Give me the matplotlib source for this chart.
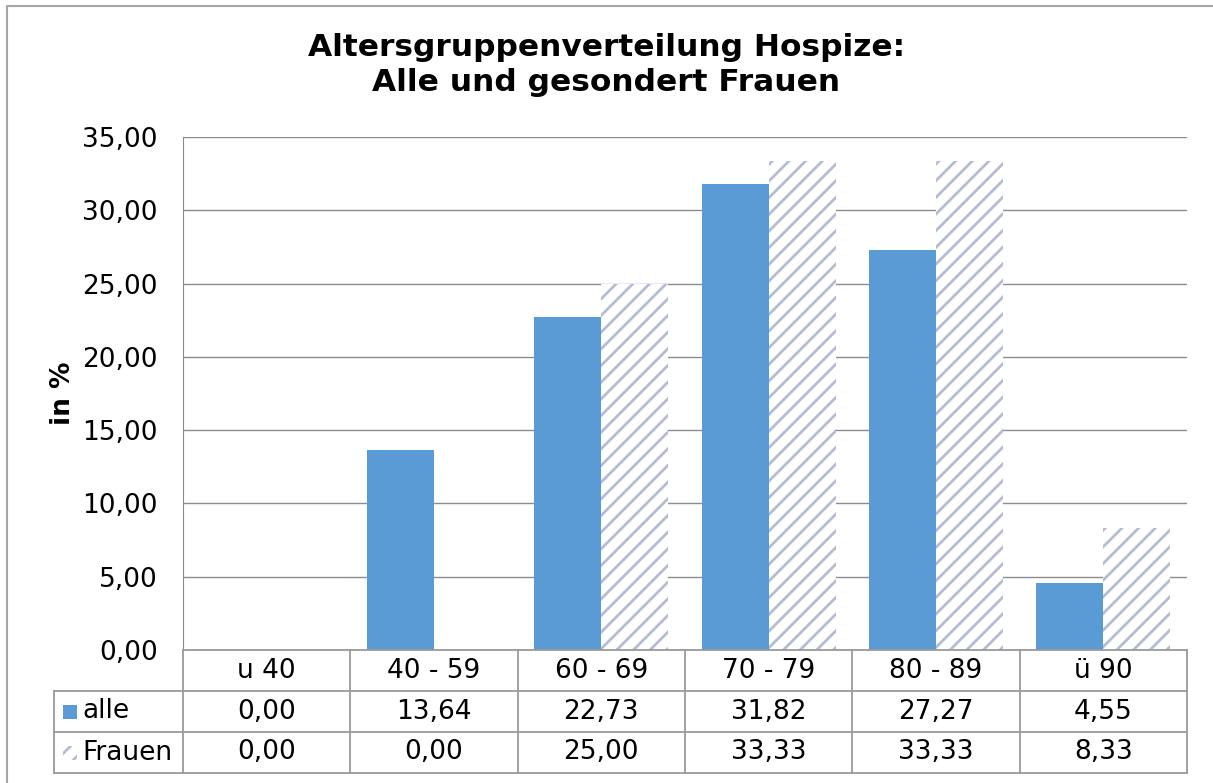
import numpy as np
import matplotlib.pyplot as plt
from matplotlib.patches import Rectangle
from matplotlib.lines import Line2D

plt.rcParams['font.family'] = ['DejaVu Sans']
plt.rcParams['hatch.linewidth'] = 2.0

# Daten
kategorien = ['u 40', '40 - 59', '60 - 69', '70 - 79', '80 - 89', 'ü 90']
alle = [0.00, 13.64, 22.73, 31.82, 27.27, 4.55]
frauen = [0.00, 0.00, 25.00, 33.33, 33.33, 8.33]
serien = ['alle', 'Frauen']

W, H = 1213, 783
fig = plt.figure(figsize=(W / 100, H / 100), dpi=100)

# Pixel (von oben) -> Figurenkoordinaten
def fx(x):
    return x / W

def fy(y):
    return 1 - y / H

grau = '#9a9a9a'
gitter = '#8c8c8c'
blau = '#5b9bd5'
schraffur = '#b3bdd3'
fs = 19

# äußerer Rahmen (nur links und oben sichtbar)
fig.add_artist(Line2D([fx(7), fx(7), fx(W)], [fy(H), fy(6), fy(6)], transform=fig.transFigure,
                      color='#a6a6a6', lw=1.5))

ax = fig.add_axes([fx(183), fy(650), fx(1187) - fx(183), fy(137) - fy(650)])
x = np.arange(len(kategorien))
b = 0.4
ax.bar(x - b / 2, alle, width=b, color=blau, zorder=3)
ax.bar(x + b / 2, frauen, width=b, color='white', edgecolor=schraffur, hatch='//', lw=0, zorder=3)

ax.set_xlim(-0.5, len(kategorien) - 0.5)
ax.set_ylim(0, 35)
ax.set_yticks(np.arange(0, 36, 5))
ax.set_yticklabels([f'{v:.2f}'.replace('.', ',') for v in np.arange(0, 36, 5)], fontsize=fs)
ax.set_xticks([])
ax.grid(axis='y', color=gitter, lw=1, zorder=0)
for s in ['top', 'right', 'bottom']:
    ax.spines[s].set_visible(False)
ax.spines['left'].set_color(gitter)
ax.tick_params(axis='y', length=0, pad=18)
ax.set_ylabel('in %', fontsize=fs, fontweight='bold', labelpad=5)

fig.text(0.5, fy(65), 'Altersgruppenverteilung Hospize:\nAlle und gesondert Frauen',
         ha='center', va='center', fontsize=22.5, fontweight='bold', linespacing=1.3)

# Datentabelle
xl, x0, x1 = 54, 183, 1187
zeilen = [650, 691, 732, 773]
cw = (x1 - x0) / len(kategorien)

def linie(xa, xb, ya, yb):
    fig.add_artist(Line2D([fx(xa), fx(xb)], [fy(ya), fy(yb)], transform=fig.transFigure,
                          color=grau, lw=1.3))

linie(x0, x1, zeilen[0], zeilen[0])
for yy in zeilen[1:]:
    linie(xl, x1, yy, yy)
linie(xl, xl, zeilen[1], zeilen[3])
for i in range(len(kategorien) + 1):
    linie(x0 + i * cw, x0 + i * cw, zeilen[0], zeilen[3])

for i, k in enumerate(kategorien):
    xc = fx(x0 + (i + 0.5) * cw)
    fig.text(xc, fy((zeilen[0] + zeilen[1]) / 2), k, ha='center', va='center', fontsize=fs)
    for r, werte in enumerate([alle, frauen]):
        fig.text(xc, fy((zeilen[r + 1] + zeilen[r + 2]) / 2), f'{werte[i]:.2f}'.replace('.', ','),
                 ha='center', va='center', fontsize=fs)

# Legendenschlüssel
for r, name in enumerate(serien):
    ym = (zeilen[r + 1] + zeilen[r + 2]) / 2
    if r == 0:
        fig.add_artist(Rectangle((fx(63), fy(ym + 7)), fx(14), fy(0) - fy(14),
                                 transform=fig.transFigure, color=blau, lw=0))
    else:
        fig.add_artist(Rectangle((fx(63), fy(ym + 7)), fx(14), fy(0) - fy(14),
                                 transform=fig.transFigure, facecolor='white',
                                 edgecolor=schraffur, hatch='//', lw=0))
    fig.text(fx(82), fy(ym), name, ha='left', va='center', fontsize=fs)

fig.savefig('out.png', dpi=100)
